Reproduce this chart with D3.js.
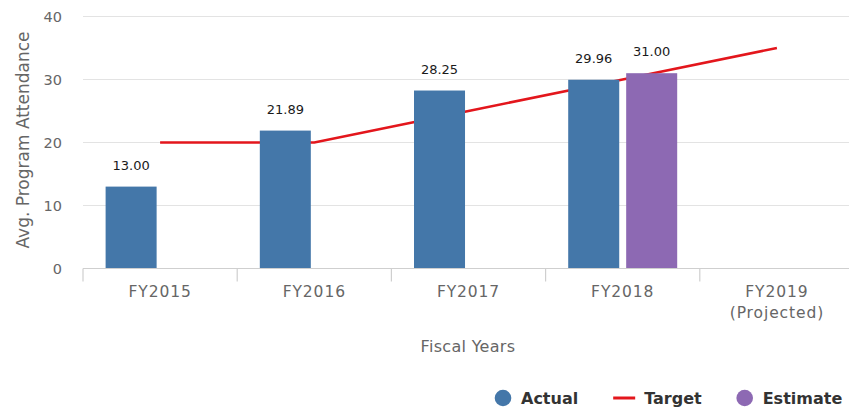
<!DOCTYPE html>
<html>
<head>
<meta charset="utf-8">
<script src="https://cdn.jsdelivr.net/npm/d3@7"></script>
<style>
  html, body { margin: 0; padding: 0; background: #fff; }
  svg { display: block; font-family: "DejaVu Sans", Verdana, sans-serif; }
</style>
</head>
<body>
<svg id="chart" width="849" height="410"></svg>
<script>
// Fiscal-year categories (second line shown under the first where present)
const categories = ["FY2015", "FY2016", "FY2017", "FY2018", "FY2019"];
const categorySubLabels = ["", "", "", "", "(Projected)"];

// Series values (null = no bar for that year)
const actualValues   = [13.00, 21.89, 28.25, 29.96, null];
const estimateValues = [null, null, null, 31.00, null];
const targetValues   = [20, 20, 25, 30, 35];

// Axis ticks
const yTicks = [0, 10, 20, 30, 40];

const seriesNames = ["Actual", "Estimate"];
const colors = { Actual: "#4477a9", Estimate: "#8d69b3", Target: "#e3161c" };

const svg = d3.select("#chart");
const W = 849;
const plot = { left: 83, right: 854, top: 16.5, bottom: 268.5 };

const x = d3.scaleBand().domain(categories).range([plot.left, plot.right]).padding(0);
const xInner = d3.scaleBand().domain(seriesNames)
  .range([0, x.bandwidth()]).paddingInner(0.12).paddingOuter(0.39);
const y = d3.scaleLinear().domain([0, 40]).range([plot.bottom, plot.top]);

// Horizontal grid lines
svg.append("g").selectAll("line").data(yTicks.filter(t => t !== 0)).join("line")
  .attr("x1", plot.left).attr("x2", W)
  .attr("y1", d => y(d)).attr("y2", d => y(d))
  .attr("stroke", "#e3e3e3").attr("stroke-width", 1.2);

// Y tick labels
svg.append("g").selectAll("text").data(yTicks).join("text")
  .attr("x", 62).attr("y", d => y(d) + 5)
  .attr("text-anchor", "end")
  .attr("font-size", 14.5).attr("fill", "#666")
  .text(d => d);

// Y axis title
svg.append("text")
  .attr("transform", "translate(29,140) rotate(-90)")
  .attr("text-anchor", "middle")
  .attr("font-size", 17).attr("fill", "#666")
  .text("Avg. Program Attendance");

// Target line (drawn beneath the columns)
const line = d3.line()
  .x((d, i) => x(categories[i]) + x.bandwidth() / 2)
  .y(d => y(d));
svg.append("path")
  .datum(targetValues)
  .attr("d", line)
  .attr("fill", "none")
  .attr("stroke", colors.Target).attr("stroke-width", 2.6);

// Columns
const barData = [];
categories.forEach((c, i) => {
  if (actualValues[i] != null) barData.push({ cat: c, series: "Actual", value: actualValues[i] });
  if (estimateValues[i] != null) barData.push({ cat: c, series: "Estimate", value: estimateValues[i] });
});

svg.append("g").selectAll("rect").data(barData).join("rect")
  .attr("x", d => x(d.cat) + xInner(d.series))
  .attr("width", xInner.bandwidth())
  .attr("y", d => y(d.value))
  .attr("height", d => y(0) - y(d.value))
  .attr("fill", d => colors[d.series]);

// Value labels above columns
svg.append("g").selectAll("text").data(barData).join("text")
  .attr("x", d => x(d.cat) + xInner(d.series) + xInner.bandwidth() / 2)
  .attr("y", d => y(d.value) - 17)
  .attr("text-anchor", "middle")
  .attr("font-size", 13).attr("fill", "#1a1a1a")
  .text(d => d.value.toFixed(2));

// X axis line and tick marks at category boundaries
svg.append("line")
  .attr("x1", plot.left).attr("x2", W)
  .attr("y1", plot.bottom).attr("y2", plot.bottom)
  .attr("stroke", "#cfcfcf").attr("stroke-width", 1.2);

const boundaries = categories.map(c => x(c)).concat([plot.right]);
svg.append("g").selectAll("line").data(boundaries).join("line")
  .attr("x1", d => d).attr("x2", d => d)
  .attr("y1", plot.bottom).attr("y2", plot.bottom + 13)
  .attr("stroke", "#cfcfcf").attr("stroke-width", 1.2);

// X tick labels
const xl = svg.append("g").selectAll("text").data(categories).join("text")
  .attr("x", d => x(d) + x.bandwidth() / 2)
  .attr("y", 297)
  .attr("text-anchor", "middle")
  .attr("font-size", 15.5).attr("letter-spacing", 0.9).attr("fill", "#666");
xl.append("tspan").text(d => d);
xl.append("tspan")
  .attr("x", d => x(d) + x.bandwidth() / 2)
  .attr("dy", 21)
  .text((d, i) => categorySubLabels[i]);

// X axis title
svg.append("text")
  .attr("x", 468).attr("y", 352)
  .attr("text-anchor", "middle")
  .attr("font-size", 16).attr("letter-spacing", 0.3).attr("fill", "#666")
  .text("Fiscal Years");

// Legend
const legendItems = [
  { name: "Actual", type: "circle" },
  { name: "Target", type: "line" },
  { name: "Estimate", type: "circle" }
];
const legend = svg.append("g");
let lx = 495;
const ly = 398;
legendItems.forEach(item => {
  const g = legend.append("g");
  let tx;
  if (item.type === "circle") {
    g.append("circle").attr("cx", lx + 8).attr("cy", ly).attr("r", 8.3)
      .attr("fill", colors[item.name]);
    tx = lx + 26;
  } else {
    g.append("line").attr("x1", lx).attr("x2", lx + 22)
      .attr("y1", ly).attr("y2", ly)
      .attr("stroke", colors[item.name]).attr("stroke-width", 3);
    tx = lx + 31;
  }
  const t = g.append("text").attr("x", tx).attr("y", ly + 6)
    .attr("font-size", 16).attr("font-weight", "bold").attr("fill", "#333")
    .text(item.name);
  lx = tx + t.node().getComputedTextLength() + 35;
});
</script>
</body>
</html>
